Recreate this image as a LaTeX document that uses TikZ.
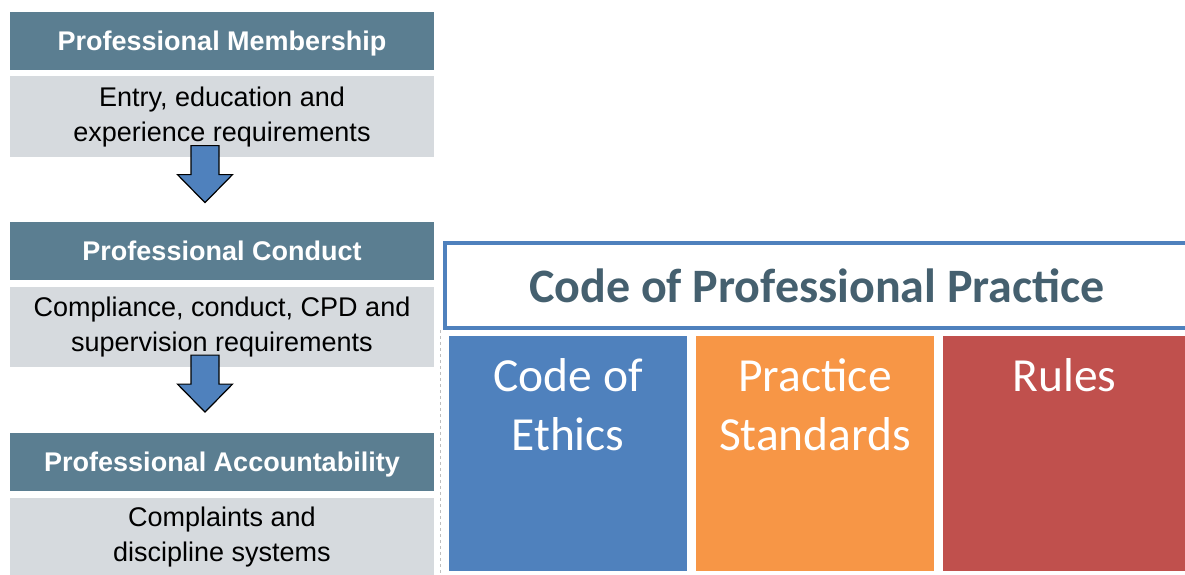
\documentclass[tikz,border=0pt]{standalone}
\usepackage{fontspec}
\setmainfont{Liberation Sans}
\newfontfamily\carlito{Carlito}
\usetikzlibrary{positioning}
\definecolor{headslate}{RGB}{91,126,145}
\definecolor{bodygray}{RGB}{214,218,222}
\definecolor{ethicsblue}{RGB}{79,129,189}
\definecolor{standorange}{RGB}{247,150,70}
\definecolor{rulesred}{RGB}{192,80,77}
\definecolor{titleslate}{RGB}{69,96,111}
\newcommand{\blockarrow}[1]{%
  \draw[fill=ethicsblue, line width=1.2pt, line join=miter] ([shift={(-31,-12)}]#1.south) -- ++(28,0) -- ++(0,29) -- ++(13.5,0) -- ++(-27.5,28) -- ++(-27.5,-28) -- ++(13.5,0) -- cycle;}
\begin{document}
\begin{tikzpicture}[x=1pt, y=-1pt,
    head/.style={fill=headslate, text=white, minimum width=424, minimum height=58, inner sep=0, text depth=0pt, font=\bfseries\fontsize{27}{30}\selectfont},
    body/.style={fill=bodygray, minimum width=424, inner sep=0, align=center, font=\fontsize{27}{35}\selectfont},
    col/.style={minimum height=235, inner sep=0},
    coltext/.style={text=white, inner sep=0, align=center, font=\carlito\fontsize{47.5}{59}\selectfont}]
                    \useasboundingbox (0,0) rectangle (1185,574);
                    \clip (0,0) rectangle (1185,574);
                    \node[head] (h1) at (222,41) {Professional Membership};
                    \node[body, minimum height=81] (b1) [below=6pt of h1] {Entry, education and\\experience requirements};
                    \node[head] (h2) at (222,250.5) {Professional Conduct};
                    \node[body, minimum height=80] (b2) [below=7pt of h2] {Compliance, conduct, CPD and\\supervision requirements};
                    \node[head] (h3) at (222,461.5) {Professional Accountability};
                    \node[body, minimum height=78] (b3) [below=7pt of h3] {Complaints and\\discipline systems};
                    \blockarrow{b1}
                    \blockarrow{b2}

                    \draw[gray!50, dashed, line width=0.6pt] (440.7,330) -- (440.7,574);

                    \node[draw=ethicsblue, line width=4pt, minimum width=744, minimum height=85, inner sep=0, text=titleslate, font=\carlito\bfseries\fontsize{48}{52}\selectfont] (title) at (817,285.5) {Code of Professional Practice};

                    \node[col, fill=ethicsblue, minimum width=238] (ethics) at (568,453.5) {};
                    \node[col, fill=standorange, minimum width=238] (standards) at (815,453.5) {};
                    \node[col, fill=rulesred, minimum width=243] (rules) at (1064.5,453.5) {};
                    \node[coltext] (ethicslbl) [below=23pt of ethics.north] {Code of\\Ethics};
                    \node[coltext] (standardslbl) [below=23pt of standards.north] {Practice\\Standards};
                    \node[coltext] (ruleslbl) [below=23pt of rules.north] {Rules};
                \end{tikzpicture}
\end{document}
